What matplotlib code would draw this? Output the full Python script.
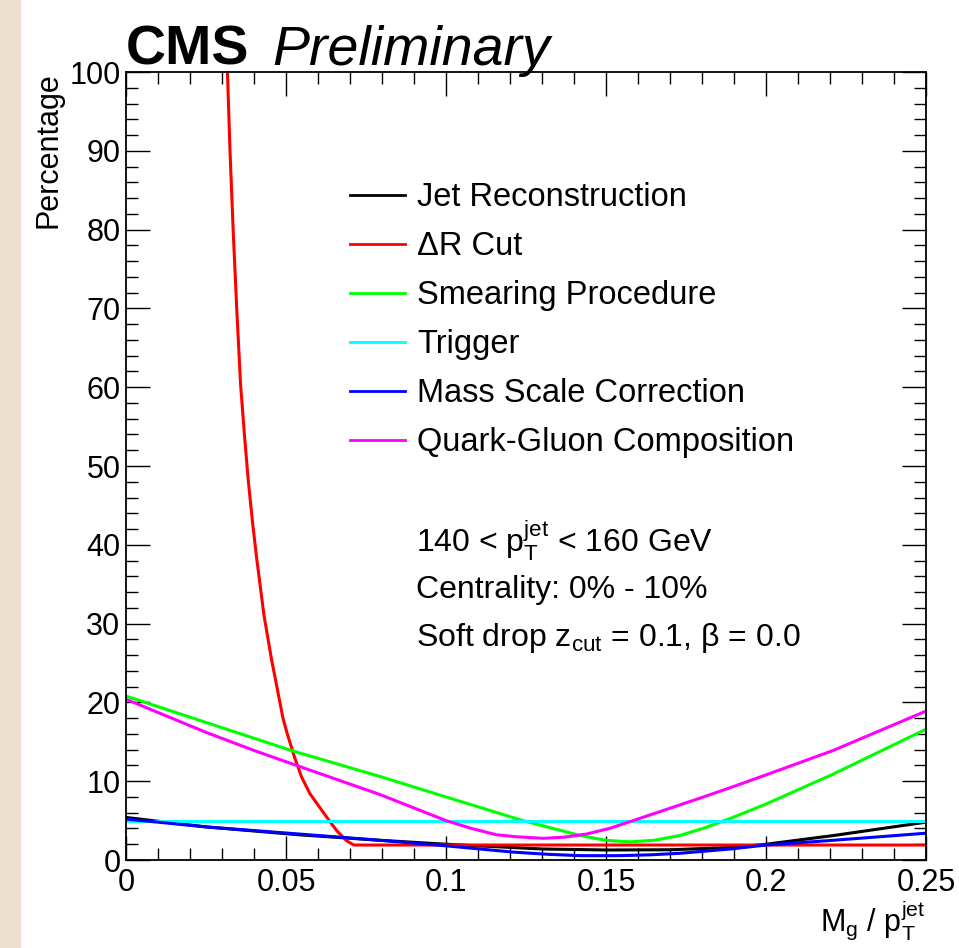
import matplotlib
matplotlib.use('Agg')
import matplotlib.pyplot as plt
from matplotlib.patches import Rectangle
from matplotlib.ticker import MultipleLocator, FuncFormatter
import numpy as np

plt.rcParams['font.family'] = ['Liberation Sans', 'DejaVu Sans']
plt.rcParams['mathtext.fontset'] = 'custom'
plt.rcParams['mathtext.rm'] = 'Liberation Sans'
plt.rcParams['mathtext.it'] = 'Liberation Sans'
plt.rcParams['mathtext.bf'] = 'Liberation Sans:bold'

# values
jet_x = [0.0, 0.025, 0.054, 0.0794, 0.1, 0.13, 0.15, 0.17, 0.19, 0.2, 0.221, 0.25]
jet_y = [5.4, 4.2, 3.2, 2.5, 2.0, 1.4, 1.27, 1.3, 1.6, 2.0, 3.1, 4.8]

dr_x = [0.0317, 0.0325, 0.0335, 0.0346, 0.0358, 0.037, 0.0382, 0.0395, 0.0408, 0.0431,
        0.0455, 0.047, 0.049, 0.0504, 0.0527, 0.0549, 0.0575, 0.0605, 0.0635, 0.0659,
        0.0689, 0.0712, 0.25]
dr_y = [100.0, 90.0, 79.8, 70.0, 60.4, 54.0, 48.2, 43.0, 38.4, 31.1,
        25.4, 22.3, 18.1, 16.0, 13.0, 10.5, 8.4, 6.7, 5.0, 3.7,
        2.45, 1.9, 1.9]

smear_x = [0.0, 0.0516, 0.0794, 0.1, 0.124, 0.142, 0.15, 0.1575, 0.165, 0.173, 0.181,
           0.189, 0.2, 0.221, 0.25]
smear_y = [20.8, 13.9, 10.6, 8.0, 5.0, 3.1, 2.5, 2.3, 2.5, 3.1, 4.1,
           5.3, 7.1, 10.9, 16.6]

trig_x = [0.0, 0.25]
trig_y = [5.0, 5.0]

mass_x = [0.0, 0.025, 0.054, 0.0794, 0.1, 0.121, 0.132, 0.142, 0.154, 0.164, 0.173,
          0.189, 0.2, 0.221, 0.25]
mass_y = [5.2, 4.2, 3.3, 2.5, 1.8, 1.0, 0.72, 0.55, 0.55, 0.66, 0.85,
          1.4, 1.9, 2.5, 3.4]

qg_x = [0.0, 0.0125, 0.025, 0.04, 0.0533, 0.066, 0.0794, 0.09, 0.1, 0.108, 0.1158,
        0.122, 0.1304, 0.137, 0.144, 0.151, 0.1585, 0.179, 0.189, 0.2, 0.221, 0.25]
qg_y = [20.4, 18.3, 16.2, 13.9, 12.0, 10.2, 8.3, 6.6, 5.0, 4.0, 3.2,
        2.95, 2.75, 2.9, 3.3, 4.0, 5.0, 7.8, 9.2, 10.8, 13.9, 18.9]

series = [
    ('Jet Reconstruction', jet_x, jet_y, '#000000'),
    ('ΔR Cut', dr_x, dr_y, '#ff0000'),
    ('Smearing Procedure', smear_x, smear_y, '#00ff00'),
    ('Trigger', trig_x, trig_y, '#00ffff'),
    ('Mass Scale Correction', mass_x, mass_y, '#0000ff'),
    ('Quark-Gluon Composition', qg_x, qg_y, '#ff00ff'),
]

fig = plt.figure(figsize=(9.59, 9.48), dpi=100)
fig.patches.append(Rectangle((0, 0), 20 / 959, 1, transform=fig.transFigure,
                             color='#eddfcd', zorder=0))

ax = fig.add_axes([126 / 959, 88 / 948, 800 / 959, 788 / 948])

for label, xs, ys, col in series:
    ax.plot(xs, ys, color=col, lw=2.2, label=label, solid_joinstyle='round')

ax.set_xlim(0, 0.25)
ax.set_ylim(0, 100)

for s in ax.spines.values():
    s.set_linewidth(1.3)

ax.xaxis.set_major_locator(MultipleLocator(0.05))
ax.xaxis.set_minor_locator(MultipleLocator(0.01))
ax.yaxis.set_major_locator(MultipleLocator(10))
ax.yaxis.set_minor_locator(MultipleLocator(2))
ax.xaxis.set_major_formatter(FuncFormatter(lambda v, p: '%g' % round(v, 3)))
ax.yaxis.set_major_formatter(FuncFormatter(lambda v, p: '%g' % v))
ax.tick_params(which='both', direction='in', top=True, right=True, width=1.0)
ax.tick_params(which='major', length=17, labelsize=22)
ax.tick_params(which='minor', length=8.5)
ax.tick_params(axis='x', which='major', pad=6)
ax.tick_params(axis='y', which='major', pad=4)

ax.set_xlabel(r'$\mathregular{M_{g}\ /\ p_{T}^{jet}}$', fontsize=22, loc='right', labelpad=0)
ax.set_ylabel('Percentage', fontsize=22, loc='top', labelpad=4)

ax.text(0.0, 1.009, 'CMS', transform=ax.transAxes, fontsize=40, fontweight='bold',
        ha='left', va='baseline')
ax.text(0.1825, 1.009, 'Preliminary', transform=ax.transAxes, fontsize=40, style='italic',
        ha='left', va='baseline')

leg = ax.legend(loc='upper left', bbox_to_anchor=(0.28, 0.860), frameon=False,
                fontsize=23.5, handlelength=1.69, handletextpad=0.37, labelspacing=0.55,
                borderpad=0, borderaxespad=0)
for h in leg.get_lines():
    h.set_linewidth(2.0)

ax.text(0.3625, 0.405, r'140 < $\mathregular{p_{T}^{jet}}$ < 160 GeV', transform=ax.transAxes,
        fontsize=23, ha='left', va='center')
ax.text(0.3625, 0.343, 'Centrality: 0% - 10%', transform=ax.transAxes,
        fontsize=23, ha='left', va='center')
ax.text(0.3625, 0.282, r'Soft drop z$\mathregular{_{cut}}$ = 0.1, β = 0.0', transform=ax.transAxes,
        fontsize=23, ha='left', va='center')

fig.savefig('out.png', dpi=100, facecolor='white')
